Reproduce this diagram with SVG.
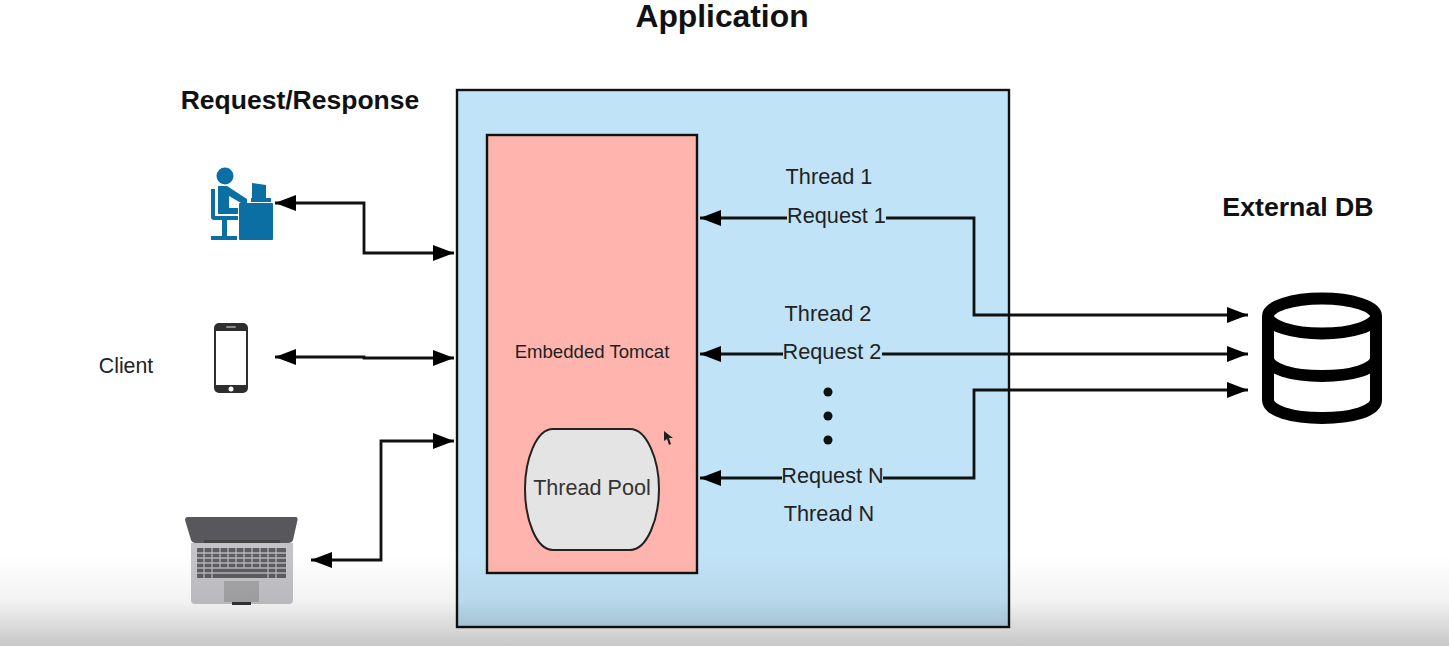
<svg xmlns="http://www.w3.org/2000/svg" width="1449" height="646" viewBox="0 0 1449 646">
<style>
text{font-family:"Liberation Sans",Arial,sans-serif;fill:#222}
.h{font-weight:bold;fill:#111;text-anchor:middle}
.t{font-size:21.700px;text-anchor:middle}
.c{fill:none;stroke:#111;stroke-width:2.800}
.both{marker-start:url(#a);marker-end:url(#a)}
.end{marker-end:url(#a)}
</style>
<defs>
<marker id="a" markerUnits="userSpaceOnUse" markerWidth="22" markerHeight="16" refX="21" refY="8" orient="auto-start-reverse"><path d="M0 0L21 8L0 16Z" fill="#000"/></marker>
<linearGradient id="fade" x1="0" y1="0" x2="0" y2="1"><stop offset="0" stop-color="#000" stop-opacity="0"/><stop offset="0.5" stop-color="#000" stop-opacity="0.05"/><stop offset="1" stop-color="#000" stop-opacity="0.22"/></linearGradient>
</defs>
<rect width="1449" height="646" fill="#fff"/>
<text class="h" x="722" y="27" style="font-size:31.800px">Application</text>
<text class="h" x="300" y="109" style="font-size:26.500px">Request/Response</text>
<text class="h" x="1298" y="216" style="font-size:26.700px">External DB</text>
<text x="126" y="373" text-anchor="middle" style="font-size:21.300px">Client</text>
<g id="application"><rect x="457" y="90" width="552" height="537" fill="#c1e3f7" stroke="#111" stroke-width="2.400"/></g>
<g id="tomcat"><rect x="487" y="135" width="210" height="438" fill="#ffb5ae" stroke="#111" stroke-width="2.400"/>
<text x="592" y="358" text-anchor="middle" style="font-size:18.600px">Embedded Tomcat</text></g>
<g id="thread-pool"><path d="M553 429H630C647 429 659 460 659 489C659 519 647 550 630 550H553C536 550 525 519 525 489C525 460 536 429 553 429Z" fill="#e4e4e4" stroke="#222" stroke-width="2"/>
<text x="592" y="495" text-anchor="middle" style="font-size:21.600px;fill:#333">Thread Pool</text></g>
<g id="thread-labels">
<text class="t" x="829" y="184">Thread 1</text>
<text class="t" x="836.500" y="223">Request 1</text>
<text class="t" x="828" y="321">Thread 2</text>
<text class="t" x="832" y="359">Request 2</text>
<circle cx="828" cy="392" r="4.500" fill="#111"/><circle cx="828" cy="416" r="4.500" fill="#111"/><circle cx="828" cy="440" r="4.500" fill="#111"/>
<text class="t" x="832.500" y="483">Request N</text>
<text class="t" x="829" y="521">Thread N</text>
</g>
<g id="connectors">
<path class="c both" d="M275 203H364V253H454"/>
<path class="c both" d="M275 357H364V358H454"/>
<path class="c both" d="M311 560H381V441H454"/>
<path class="c end" d="M787 218H700"/>
<path class="c end" d="M886 218H974V315H1248"/>
<path class="c end" d="M783 354H700"/>
<path class="c end" d="M882 354H1248"/>
<path class="c end" d="M782 478H700"/>
<path class="c end" d="M883 478H974V390H1248"/>
</g>
<g id="client-desktop" fill="#0b6fa4">
<circle cx="225" cy="176" r="8.500"/>
<path d="M218 186H227L247 199V203H241L229 196V208H238V214H218Z"/>
<path d="M211 189H215V216H238V220H214Q211 220 211 217Z"/>
<path d="M222 220H227V236H237V240H211V236H222Z"/>
<rect x="239" y="203" width="34" height="37" rx="1"/>
<path d="M252 183L266 185V198H252Z"/><rect x="251" y="198" width="20" height="4"/>
</g>
<g id="client-phone">
<rect x="214" y="323" width="34" height="70" rx="5" fill="#2e2e30"/>
<rect x="216" y="331" width="30" height="54" fill="#fff"/>
<rect x="226" y="326" width="10" height="2" rx="1" fill="#888"/>
<circle cx="231" cy="389" r="2.500" fill="#fff"/>
</g>
<g id="client-laptop">
<path d="M188 517H296Q298 517 297.500 520L293 540Q292 543 288 543H196Q192 543 191 540L185 520Q185 517 188 517Z" fill="#58585c"/>
<rect x="204" y="540" width="76" height="4" fill="#444"/>
<path d="M191 543H293V600Q293 604 289 604H195Q191 604 191 600Z" fill="#c4c4c8"/>
<rect x="197" y="548" width="89" height="30" rx="1" fill="#5d5d62"/>
<path d="M197 553H286M197 558H286M197 563H286M197 568H286M197 573H286" stroke="#b5b5b8" stroke-width="1.300"/>
<path d="M204 548V578M212 548V578M220 548V568M228 548V568M236 548V568M244 548V568M252 548V568M260 548V568M268 548V578M276 548V578" stroke="#b5b5b8" stroke-width="1.300"/>
<rect x="224" y="581" width="35" height="21" rx="1" fill="#a5a5a8"/>
<rect x="232" y="602" width="19" height="3" fill="#333"/>
</g>
<g id="external-db" fill="none" stroke="#000" stroke-width="12">
<ellipse cx="1322" cy="316" rx="54" ry="17.500" fill="#fff"/>
<path d="M1268 316V400C1268 411 1292 418 1322 418C1352 418 1376 411 1376 400V316"/>
<path d="M1268 358C1268 369 1292 376 1322 376C1352 376 1376 369 1376 358"/>
</g>
<path id="cursor" d="M664 431L664 441L667 439L669 445L671 444L669 438L673 438Z" fill="#222"/>
<rect id="bottom-fade" x="0" y="555" width="1449" height="91" fill="url(#fade)"/>
</svg>
